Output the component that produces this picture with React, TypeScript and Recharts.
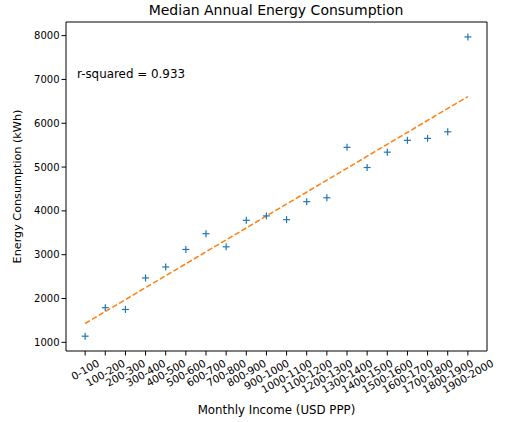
import React from 'react';
import { ComposedChart, Line, XAxis, YAxis, ReferenceLine } from 'recharts';

const incomeBands = [
  '0-100', '100-200', '200-300', '300-400', '400-500', '500-600', '600-700',
  '700-800', '800-900', '900-1000', '1000-1100', '1100-1200', '1200-1300',
  '1300-1400', '1400-1500', '1500-1600', '1600-1700', '1700-1800',
  '1800-1900', '1900-2000',
];

const medianEnergy = [
  1140, 1790, 1750, 2470, 2720, 3120, 3480, 3180, 3785, 3885,
  3800, 4210, 4300, 5450, 4990, 5340, 5610, 5655, 5805, 7970,
];

// fitted line, read at the first and last band
const trendEnds = [1430, 6610];
const rSquared = '0.933';

const yTicks = [1000, 2000, 3000, 4000, 5000, 6000, 7000, 8000];
const xDomain = [-0.95, 19.95];
const yDomain = [802, 8311];

const data = incomeBands.map((band, i) => ({
  x: i,
  band,
  energy: medianEnergy[i],
  trend: i === 0 ? trendEnds[0] : i === incomeBands.length - 1 ? trendEnds[1] : undefined,
}));

const FONT = 'DejaVu Sans, sans-serif';
const ANGLE = 30;

const Plus = (props: any) => {
  const { cx, cy } = props;
  if (cx == null || cy == null) return null;
  const r = 3.5;
  return (
    <g>
      <line x1={cx - r} y1={cy} x2={cx + r} y2={cy} stroke="#1f77b4" strokeWidth={1.2} />
      <line x1={cx} y1={cy - r} x2={cx} y2={cy + r} stroke="#1f77b4" strokeWidth={1.2} />
    </g>
  );
};

const BandTick = (props: any) => {
  const { x, y, payload } = props;
  const label = incomeBands[payload.value] ?? '';
  const fs = 10.4;
  const rad = (ANGLE * Math.PI) / 180;
  const len = label.replace('-', '').length * 0.636 * fs + 0.361 * fs;
  const boxH = len * Math.sin(rad) + fs * 0.75 * Math.cos(rad);
  const cy = y + 1 + boxH / 2;
  return (
    <text
      x={x}
      y={cy}
      transform={`rotate(${-ANGLE} ${x} ${cy})`}
      textAnchor="middle"
      dominantBaseline="central"
      fontFamily={FONT}
      fontSize={fs}
      fill="#000"
    >
      {label}
    </text>
  );
};

export default function App() {
  return (
    <div style={{ width: 512, height: 422, position: 'relative', fontFamily: FONT }}>
      <style>{'body{margin:0}'}</style>
      <div
        style={{
          position: 'absolute', top: 2, left: 0, width: 552, textAlign: 'center',
          fontSize: 14, color: '#000',
        }}
      >
        Median Annual Energy Consumption
      </div>
      <ComposedChart
        width={512}
        height={422}
        data={data}
        margin={{ top: 22, right: 25, bottom: 0, left: 0 }}
      >
        <XAxis
          dataKey="x"
          type="number"
          domain={xDomain}
          ticks={incomeBands.map((_, i) => i)}
          interval={0}
          allowDataOverflow
          height={71}
          tick={<BandTick />}
          tickSize={4.5}
          axisLine={{ stroke: '#000' }}
          tickLine={{ stroke: '#000' }}
          label={{
            value: 'Monthly Income (USD PPP)', position: 'insideBottom', offset: 8,
            style: { fontFamily: FONT, fontSize: 11.8, fill: '#000' },
          }}
        />
        <YAxis
          type="number"
          domain={yDomain}
          ticks={yTicks}
          allowDataOverflow
          width={66}
          tickSize={4.5}
          axisLine={{ stroke: '#000' }}
          tickLine={{ stroke: '#000' }}
          tick={{ fontFamily: FONT, fontSize: 10, fill: '#000' }}
          label={{
            value: 'Energy Consumption (kWh)', angle: -90, position: 'insideLeft', offset: 17,
            style: { fontFamily: FONT, fontSize: 11.2, fill: '#000', textAnchor: 'middle' },
          }}
        />
        <ReferenceLine y={yDomain[1]} stroke="#000" strokeWidth={1} ifOverflow="visible" />
        <ReferenceLine x={xDomain[1]} stroke="#000" strokeWidth={1} ifOverflow="visible" />
        <Line
          dataKey="trend"
          connectNulls
          stroke="#ff7f0e"
          strokeWidth={1.5}
          strokeDasharray="5.5 2.4"
          dot={false}
          activeDot={false}
          isAnimationActive={false}
        />
        <Line
          dataKey="energy"
          stroke="none"
          dot={<Plus />}
          activeDot={false}
          isAnimationActive={false}
        />
      </ComposedChart>
      <div
        style={{
          position: 'absolute', left: 77, top: 67, fontSize: 11.9, color: '#000',
          whiteSpace: 'nowrap',
        }}
      >
        r-squared = {rSquared}
      </div>
    </div>
  );
}
